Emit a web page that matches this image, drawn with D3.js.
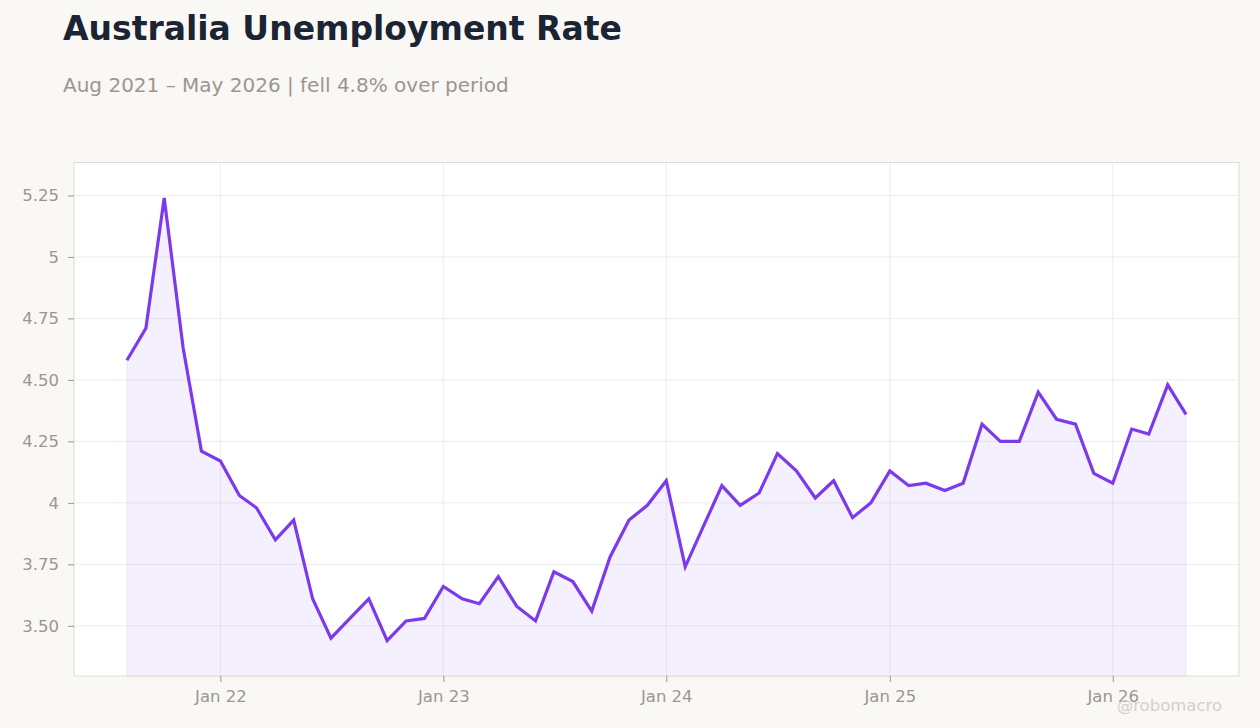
<!DOCTYPE html>
<html>
<head>
<meta charset="utf-8">
<script src="https://cdn.jsdelivr.net/npm/d3@7"></script>
<style>
  body { margin: 0; background: #f9f8f5; }
  svg { display: block; font-family: "DejaVu Sans", sans-serif; }
</style>
</head>
<body>
<svg id="chart" width="1260" height="728"></svg>
<script>
// monthly readings, Aug 2021 .. May 2026
var months = [
  "2021-08","2021-09","2021-10","2021-11","2021-12",
  "2022-01","2022-02","2022-03","2022-04","2022-05","2022-06","2022-07","2022-08","2022-09","2022-10","2022-11","2022-12",
  "2023-01","2023-02","2023-03","2023-04","2023-05","2023-06","2023-07","2023-08","2023-09","2023-10","2023-11","2023-12",
  "2024-01","2024-02","2024-03","2024-04","2024-05","2024-06","2024-07","2024-08","2024-09","2024-10","2024-11","2024-12",
  "2025-01","2025-02","2025-03","2025-04","2025-05","2025-06","2025-07","2025-08","2025-09","2025-10","2025-11","2025-12",
  "2026-01","2026-02","2026-03","2026-04","2026-05"
];
var rates = [
  4.58, 4.71, 5.24, 4.63, 4.21,
  4.17, 4.03, 3.98, 3.85, 3.93, 3.61, 3.45, 3.53, 3.61, 3.44, 3.52, 3.53,
  3.66, 3.61, 3.59, 3.70, 3.58, 3.52, 3.72, 3.68, 3.56, 3.78, 3.93, 3.99,
  4.09, 3.74, 3.90, 4.07, 3.99, 4.04, 4.20, 4.13, 4.02, 4.09, 3.94, 4.00,
  4.13, 4.07, 4.08, 4.05, 4.08, 4.32, 4.25, 4.25, 4.45, 4.34, 4.32, 4.12,
  4.08, 4.30, 4.28, 4.48, 4.36
];
var yTicks = [3.5, 3.75, 4, 4.25, 4.5, 4.75, 5, 5.25];
var yTickLabels = ["3.50", "3.75", "4", "4.25", "4.50", "4.75", "5", "5.25"];
var xTicks = ["2022-01", "2023-01", "2024-01", "2025-01", "2026-01"];
var xTickLabels = ["Jan 22", "Jan 23", "Jan 24", "Jan 25", "Jan 26"];

var parseMonth = d3.timeParse("%Y-%m");
var data = months.map(function(m, i) { return {date: parseMonth(m), value: rates[i]}; });

var svg = d3.select("#chart");
var margin = {top: 162.5, right: 21, bottom: 52, left: 74};
var width = 1260 - margin.left - margin.right,
    height = 728 - margin.top - margin.bottom;

// title + subtitle
svg.append("text")
  .attr("x", 63).attr("y", 40)
  .attr("font-size", 33).attr("font-weight", "bold")
  .attr("fill", "#1b2433")
  .text("Australia Unemployment Rate");
svg.append("text")
  .attr("x", 63).attr("y", 92)
  .attr("font-size", 20)
  .attr("fill", "#9b9691")
  .text("Aug 2021 \u2013 May 2026 | fell 4.8% over period");

var g = svg.append("g")
  .attr("transform", "translate(" + margin.left + "," + margin.top + ")");

// scales with a bit of padding either side
var ext = d3.extent(data, function(d) { return d.date; });
var span = ext[1] - ext[0];
var x = d3.scaleTime()
  .domain([new Date(+ext[0] - span * 0.05), new Date(+ext[1] + span * 0.05)])
  .range([0, width]);

var yExt = d3.extent(rates);
var yPad = (yExt[1] - yExt[0]) * 0.08;
var y = d3.scaleLinear()
  .domain([yExt[0] - yPad, yExt[1] + yPad])
  .range([height, 0]);

// panel
g.append("rect")
  .attr("width", width).attr("height", height)
  .attr("fill", "#ffffff");

// grid
g.append("g").selectAll("line").data(yTicks).enter().append("line")
  .attr("x1", 0).attr("x2", width)
  .attr("y1", function(d) { return y(d); }).attr("y2", function(d) { return y(d); })
  .attr("stroke", "#efedeb").attr("stroke-width", 1);
g.append("g").selectAll("line").data(xTicks).enter().append("line")
  .attr("x1", function(d) { return x(parseMonth(d)); }).attr("x2", function(d) { return x(parseMonth(d)); })
  .attr("y1", 0).attr("y2", height)
  .attr("stroke", "#efedeb").attr("stroke-width", 1);

// area + line
var area = d3.area()
  .x(function(d) { return x(d.date); })
  .y0(height)
  .y1(function(d) { return y(d.value); });
g.append("path")
  .datum(data)
  .attr("d", area)
  .attr("fill", "#7c3aed").attr("fill-opacity", 0.08)
  .attr("stroke", "#7c3aed").attr("stroke-opacity", 0.06).attr("stroke-width", 1.5);

var line = d3.line()
  .x(function(d) { return x(d.date); })
  .y(function(d) { return y(d.value); });
g.append("path")
  .datum(data)
  .attr("d", line)
  .attr("fill", "none")
  .attr("stroke", "#7c3aed")
  .attr("stroke-width", 3.2)
  .attr("stroke-linejoin", "miter");

// panel border
g.append("rect")
  .attr("width", width).attr("height", height)
  .attr("fill", "none")
  .attr("stroke", "#dedad4").attr("stroke-width", 1);

// axes
var yAxis = d3.axisLeft(y)
  .tickValues(yTicks)
  .tickSize(6)
  .tickPadding(9)
  .tickFormat(function(d, i) { return yTickLabels[i]; });
var ya = g.append("g").call(yAxis);
ya.select(".domain").remove();
ya.selectAll(".tick line").attr("stroke", "#9b9691");
ya.selectAll(".tick text")
  .attr("fill", "#9b9691")
  .attr("font-size", 16.5)
  .attr("font-family", "DejaVu Sans, sans-serif");

var xAxis = d3.axisBottom(x)
  .tickValues(xTicks.map(parseMonth))
  .tickSize(6)
  .tickPadding(8)
  .tickFormat(function(d, i) { return xTickLabels[i]; });
var xa = g.append("g")
  .attr("transform", "translate(0," + height + ")")
  .call(xAxis);
xa.select(".domain").remove();
xa.selectAll(".tick line").attr("stroke", "#9b9691");
xa.selectAll(".tick text")
  .attr("fill", "#9b9691")
  .attr("font-size", 16.5)
  .attr("font-family", "DejaVu Sans, sans-serif");

// watermark (sits over the last tick label, as in the source)
svg.append("text")
  .attr("x", 1222).attr("y", 711)
  .attr("text-anchor", "end")
  .attr("font-size", 16.5)
  .attr("fill", "#d3d0cc")
  .text("@robomacro");
</script>
</body>
</html>
